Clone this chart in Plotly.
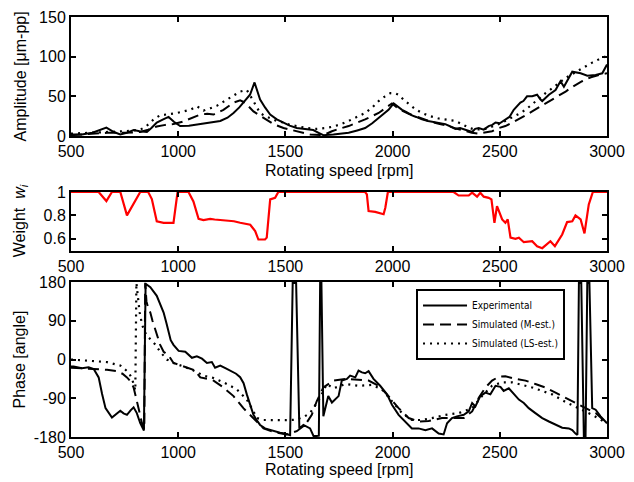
import plotly.graph_objects as go

# ---------------- data ----------------
amp_exp_rpm = [500, 550, 600, 630, 665, 700, 730, 760, 792, 820, 854, 875, 900, 930, 955, 980, 1009, 1050, 1087, 1140,
               1196, 1230, 1258, 1285, 1304, 1335, 1356, 1370, 1382, 1405, 1429, 1460, 1491, 1520, 1553, 1590, 1630, 1655,
               1677, 1724, 1760, 1795, 1835, 1872, 1905, 1935, 1960, 1981, 2005, 2025, 2044, 2065, 2090, 2110, 2137, 2165,
               2199, 2220, 2246, 2270, 2293, 2315, 2339, 2371, 2385, 2402, 2425, 2448, 2465, 2480, 2500, 2526, 2545, 2565,
               2596, 2610, 2627, 2651, 2674, 2690, 2698, 2729, 2760, 2783, 2799, 2838, 2877, 2908, 2947, 2978, 3000]
amp_exp = [2, 2, 4, 7, 10.5, 5, 2, 4, 7.5, 6, 5, 10, 17, 21, 24, 18, 12.5, 13, 14.6, 16,
           19, 23, 29, 36, 42, 52, 67.5, 56, 46, 36, 27, 21, 17, 13, 10, 8.5, 7.5, 4,
           1, 2, 3, 4, 7, 10, 16, 23, 28, 33, 41, 37, 33, 30, 26, 24, 21, 19,
           17, 16, 15, 12, 9, 10, 7.5, 5, 9, 10, 8, 12.5, 14, 17, 16, 21, 24, 33,
           42, 44, 50, 50, 52, 46, 44, 52, 58, 69, 62, 81, 79, 76, 77, 79, 90]

amp_m_rpm = [500, 560, 668, 750, 823, 860, 900, 940, 978, 1020, 1056, 1103, 1135, 1165, 1211, 1258, 1289, 1312, 1351,
             1398, 1444, 1491, 1553, 1615, 1677, 1717, 1750, 1795, 1835, 1872, 1935, 1970, 1997, 2020, 2044, 2075, 2106,
             2145, 2184, 2220, 2262, 2300, 2339, 2370, 2402, 2430, 2464, 2495, 2526, 2560, 2589, 2620, 2651, 2690, 2729,
             2770, 2807, 2845, 2884, 2925, 2962, 3000]
amp_m = [1, 2, 4, 4, 5, 8, 12, 14, 15, 18, 22, 27, 28, 27, 33, 42, 45, 42, 31,
         23, 15, 10, 6, 2, 1, 6, 9, 12.5, 17, 21, 29, 36, 41, 36, 32, 28, 25,
         21, 17.5, 15, 12.5, 9, 6, 4, 3, 4, 6, 10, 12.5, 17, 21, 26, 31, 37, 44,
         50, 56, 63, 69, 74, 77, 79]

amp_ls_rpm = [500, 580, 668, 750, 823, 850, 870, 890, 916, 950, 994, 1025, 1056, 1087, 1100, 1118, 1150, 1180, 1210,
              1242, 1265, 1289, 1320, 1335, 1351, 1365, 1382, 1405, 1429, 1460, 1491, 1520, 1553, 1600, 1646, 1690, 1724,
              1760, 1795, 1835, 1872, 1905, 1935, 1965, 1990, 2010, 2028, 2050, 2075, 2105, 2137, 2175, 2215, 2250, 2293,
              2315, 2339, 2360, 2386, 2433, 2465, 2495, 2525, 2557, 2590, 2620, 2650, 2682, 2713, 2744, 2775, 2806, 2838,
              2869, 2900, 2931, 2965, 3000]
amp_ls = [3, 4, 5, 6, 8, 12, 17, 22, 26, 27, 29, 31, 33, 37.5, 35, 32, 35, 38, 43,
          48, 52, 56, 58, 52, 44, 37, 29, 25, 22, 19, 17, 14, 12.5, 10, 9, 10, 12,
          15, 19, 24, 29, 36, 44, 50, 54, 54, 52, 46, 40, 34, 29, 25, 22, 21, 19,
          16, 13, 10, 8, 9, 12, 15, 19, 23, 28, 33, 40, 48, 54, 60, 66, 73, 78,
          83, 88, 92.5, 97, 101]

w_rpm = [500, 629, 665, 691, 730, 761, 823, 860, 877, 900, 932, 978, 997, 1048, 1071, 1095, 1118, 1149, 1170, 1196,
         1227, 1260, 1289, 1336, 1359, 1374, 1405, 1413, 1429, 1452, 1467, 1872, 1880, 1888, 1919, 1935, 1958, 1966,
         1978, 2285, 2308, 2355, 2371, 2394, 2409, 2425, 2448, 2461, 2475, 2487, 2511, 2526, 2537, 2550, 2573, 2589,
         2612, 2651, 2674, 2698, 2736, 2757, 2791, 2814, 2838, 2853, 2877, 2895, 2915, 2934, 3000]
w_vals = [1, 1, 0.923, 1, 1, 0.8, 1, 1, 0.94, 0.75, 0.737, 0.737, 1, 1, 0.92, 0.77, 0.76, 0.77, 0.765, 0.76,
          0.75, 0.75, 0.737, 0.72, 0.666, 0.594, 0.594, 0.61, 0.937, 0.95, 1, 1, 0.98, 0.837, 0.83, 0.823, 0.81, 0.866,
          1, 1, 0.97, 0.97, 0.995, 0.96, 0.994, 0.96, 0.95, 0.937, 0.737, 0.88, 0.766, 0.737, 0.766, 0.61, 0.6, 0.61,
          0.571, 0.58, 0.537, 0.52, 0.58, 0.537, 0.637, 0.743, 0.75, 0.8, 0.766, 0.646, 0.894, 1, 1]

ph_exp_rpm = [500, 512, 551, 582, 606, 629, 645, 661, 691, 710, 730, 745, 761, 778, 792, 807, 823, 835, 840, 848,
              870, 900, 915, 932, 945, 955, 965, 978, 1002, 1033, 1050, 1064, 1087, 1111, 1134, 1157, 1172, 1196, 1220,
              1242, 1270, 1289, 1305, 1320, 1335, 1351, 1365, 1382, 1405, 1429, 1450, 1475, 1495, 1514, 1522, 1534,
              1550, 1565, 1584, 1615, 1631, 1646, 1656, 1662, 1668, 1677, 1700, 1717, 1748, 1763, 1787, 1802, 1826,
              1841, 1857, 1872, 1888, 1911, 1942, 1974, 1997, 2028, 2059, 2090, 2121, 2153, 2184, 2215, 2238, 2254,
              2277, 2300, 2332, 2355, 2371, 2386, 2409, 2433, 2456, 2480, 2503, 2518, 2542, 2565, 2589, 2612, 2635,
              2666, 2698, 2729, 2760, 2791, 2822, 2838, 2853, 2862, 2869, 2880, 2892, 2900, 2908, 2918, 2931, 2947,
              2970, 3000]
ph_exp = [-16, -16, -20, -18, -22, -41.5, -80, -113, -135, -127, -119, -125, -128.5, -118, -111, -124.5, -148, -160, -165, 176,
          168, 148, 130, 109, 85, 61, 45, 34, 20, 18, 10, 4, 7.5, 2, -8, -6, -19, -14, -20,
          -26, -33, -41, -55, -81, -105, -128.5, -140, -152, -160, -164, -167, -170, -172, -176, -176, 178,
          178, -160, -152, -160, -177.5, -177.5, -177, 178, 178, -132, -85, -100, -85, -49, -45, -37.5, -41.5,
          -25.7, -30, -32, -27, -45, -61, -81, -105, -128.5, -144, -160, -160, -164, -160, -172, -174, -148,
          -136, -132, -128.5, -120.6, -101, -109, -85, -77, -81, -61, -63.6, -73, -67, -81, -93, -101, -113,
          -124.5, -136, -144, -152, -158.5, -160, -164, -172, -175, 178, 178, -178, -178, 178, 178, -113, -116.6,
          -132, -148]

ph_m_rpm = [500, 540, 590, 668, 714, 740, 761, 780, 792, 805, 815, 831, 842, 846, 852, 860, 870, 880, 893, 905, 916,
            932, 955, 978, 1000, 1025, 1071, 1090, 1103, 1135, 1165, 1211, 1258, 1304, 1351, 1398, 1444, 1506, 1553,
            1592, 1623, 1646, 1677, 1724, 1779, 1841, 1888, 1935, 1981, 2028, 2075, 2121, 2168, 2230, 2277, 2332,
            2371, 2402, 2433, 2464, 2495, 2526, 2573, 2620, 2666, 2713, 2760, 2806, 2853, 2900, 2947, 3000]
ph_m = [-19, -20, -22, -24, -27, -33, -41.5, -52, -65, -90, -113, -148, -162, 178, 135, 120, 109, 90, 69, 50, 34,
        18, 10, -8, -12, -16, -24, -33, -41.5, -45, -49, -65, -85, -113, -136, -160, -168, -174, -166.5,
        -152, -128.5, -97, -65, -49, -45, -48, -49, -61, -85, -113, -136, -144, -143, -136, -136, -136,
        -120.6, -89, -65, -49, -40, -39, -45, -49, -57, -65, -77, -89, -101, -113, -124.5, -148]

ph_ls_rpm = [500, 590, 668, 730, 769, 785, 795, 800, 805, 812, 820, 830, 840, 855, 870, 893, 916, 947, 978, 1020, 1056,
             1090, 1118, 1165, 1211, 1273, 1320, 1351, 1367, 1398, 1444, 1500, 1550, 1590, 1615, 1662, 1693, 1724,
             1779, 1841, 1903, 1950, 1997, 2044, 2090, 2137, 2184, 2246, 2308, 2371, 2417, 2464, 2511, 2557, 2604,
             2651, 2698, 2744, 2806, 2869, 2931, 3000]
ph_ls = [0, -3.5, -6, -14, -30, -45, -65, -72, 178, 140, 110, 85, 68, 55, 48, 35, 18, 0, -8, -15, -22,
         -30, -37.5, -43, -53, -69, -93, -120.6, -136, -140.5, -141, -141, -140, -132, -124.5, -89, -57, -67,
         -57, -61, -59, -69, -97, -124.5, -140.5, -140.5, -136, -128.5, -124.5, -113, -85, -61, -53, -53, -59,
         -65, -73, -81, -98.5, -113, -128.5, -148]

x_ticks = [500, 1000, 1500, 2000, 2500, 3000]
amp_ticks = [0, 50, 100, 150]
w_ticks = [0.6, 0.8, 1]
w_tick_text = ["0.6", "0.8", "1"]
ph_ticks = [-180, -90, 0, 90, 180]
ph_tick_text = ["-180", "-90", "0", "90", "180"]

series_names = ["Experimental", "Simulated (M-est.)", "Simulated (LS-est.)"]
x_title = "Rotating speed [rpm]"
y_titles = ["Amplitude [μm-pp]", "Weight  <i>w<sub>i</sub></i>", "Phase [angle]"]

# ---------------- figure ----------------
DASH = "11px,6px"
DOT = "2px,5px"
fig = go.Figure()

fig.add_trace(go.Scatter(x=amp_exp_rpm, y=amp_exp, mode="lines", line=dict(color="black", width=2),
                         xaxis="x", yaxis="y", showlegend=False))
fig.add_trace(go.Scatter(x=amp_m_rpm, y=amp_m, mode="lines", line=dict(color="black", width=2, dash=DASH),
                         xaxis="x", yaxis="y", showlegend=False))
fig.add_trace(go.Scatter(x=amp_ls_rpm, y=amp_ls, mode="lines", line=dict(color="black", width=2.2, dash=DOT),
                         xaxis="x", yaxis="y", showlegend=False))
fig.add_trace(go.Scatter(x=w_rpm, y=w_vals, mode="lines", line=dict(color="#ff0000", width=2.2),
                         xaxis="x2", yaxis="y2", showlegend=False))
fig.add_trace(go.Scatter(x=ph_exp_rpm, y=ph_exp, mode="lines", line=dict(color="black", width=2),
                         xaxis="x3", yaxis="y3", name=series_names[0]))
fig.add_trace(go.Scatter(x=ph_m_rpm, y=ph_m, mode="lines", line=dict(color="black", width=2, dash=DASH),
                         xaxis="x3", yaxis="y3", name=series_names[1]))
fig.add_trace(go.Scatter(x=ph_ls_rpm, y=ph_ls, mode="lines", line=dict(color="black", width=2.2, dash=DOT),
                         xaxis="x3", yaxis="y3", name=series_names[2]))

FONT = "Liberation Sans, Arial, sans-serif"
FS = 16
axis_common = dict(showline=True, linecolor="black", linewidth=2, mirror="ticks", ticks="inside",
                   ticklen=5, tickwidth=1.5, tickcolor="black", showgrid=False, zeroline=False,
                   automargin=False, tickfont=dict(family=FONT, size=FS, color="black"))
xcommon = dict(axis_common, range=[500, 3000], tickvals=x_ticks)

D_TOP = [0.7167, 1.0]
D_MID = [0.4440, 0.5833]
D_BOT = [0.0, 0.3690]
PLOT_H = 420.0
PLOT_W = 536.0

fig.update_layout(
    width=634, height=482,
    margin=dict(l=63, r=35, t=9, b=53),
    paper_bgcolor="white", plot_bgcolor="white",
    font=dict(family=FONT, size=FS, color="black"),
    xaxis=dict(xcommon, domain=[0, 1], anchor="y"),
    yaxis=dict(axis_common, domain=D_TOP, anchor="x", range=[0, 150], tickvals=amp_ticks),
    xaxis2=dict(xcommon, domain=[0, 1], anchor="y2"),
    yaxis2=dict(axis_common, domain=D_MID, anchor="x2", range=[0.5, 1.0],
                tickvals=w_ticks, ticktext=w_tick_text, layer="below traces"),
    xaxis3=dict(xcommon, domain=[0, 1], anchor="y3"),
    yaxis3=dict(axis_common, domain=D_BOT, anchor="x3", range=[-180, 180],
                tickvals=ph_ticks, ticktext=ph_tick_text),
    legend=dict(x=0.6437, y=D_BOT[1] - 7 / PLOT_H, xanchor="left", yanchor="top",
                bgcolor="white", bordercolor="black", borderwidth=2,
                font=dict(family="Liberation Sans Narrow, DejaVu Sans Condensed, Arial Narrow, sans-serif",
                          size=10, color="black"),
                tracegroupgap=0, itemwidth=44),
    showlegend=True,
)

# axis titles as annotations (precise placement)
title_font = dict(family=FONT, size=FS, color="black")
for ybase, off in ((D_TOP[0], 35), (D_BOT[0], 32)):
    fig.add_annotation(text=x_title, xref="paper", yref="paper", x=0.5, y=ybase - off / PLOT_H,
                       xanchor="center", yanchor="middle", showarrow=False, font=title_font)
for dom, txt in zip((D_TOP, D_MID, D_BOT), y_titles):
    fig.add_annotation(text=txt, xref="paper", yref="paper", x=-51 / PLOT_W, y=(dom[0] + dom[1]) / 2,
                       xanchor="center", yanchor="middle", textangle=-90, showarrow=False, font=title_font)

fig.write_html("out.html")
